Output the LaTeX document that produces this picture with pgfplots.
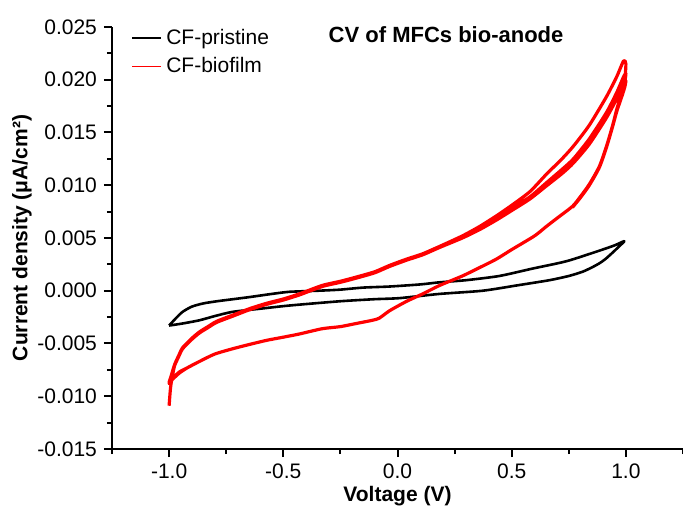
\documentclass[border=0pt]{standalone}
\usepackage{fontspec}
\setmainfont{Liberation Sans}
\usepackage{pgfplots}
\pgfplotsset{compat=1.18}

\begin{document}
\begin{tikzpicture}[font=\fontsize{10.5}{12.6}\selectfont]
  \begin{axis}[
      name=main,
      scale only axis,
      width=285.5pt, height=211pt,
      xmin=-1.25, xmax=1.25,
      ymin=-0.015, ymax=0.025,
      axis lines*=left,
      axis line style={line width=1.1pt},
      tick align=outside,
      major tick length=4pt,
      minor tick length=2.5pt,
      every tick/.style={black, line width=1pt},
      xtick={-1,-0.5,0,0.5,1},
      xticklabels={-1.0,-0.5,0.0,0.5,1.0},
      minor xtick={-1.25,-0.75,-0.25,0.25,0.75,1.25},
      ytick={-0.015,-0.01,-0.005,0,0.005,0.01,0.015,0.02,0.025},
      yticklabels={-0.015,-0.010,-0.005,0.000,0.005,0.010,0.015,0.020,0.025},
      minor ytick={-0.0125,-0.0075,-0.0025,0.0025,0.0075,0.0125,0.0175,0.0225},
      scaled y ticks=false,
      xlabel={\bfseries Voltage (V)},
      ylabel={\bfseries Current density (μA/cm²)},
      xlabel style={yshift=3pt},
      ylabel style={yshift=-4pt},
      legend style={draw=none, fill=none, at={(0.03,1.01)}, anchor=north west,
        row sep=1pt, inner sep=1pt},
      legend cell align=left,
      legend image code/.code={\draw[#1, line width=0.9pt] (0pt,0pt) -- (14.5pt,0pt);},
      clip=false,
    ]
    % CF-pristine, one cycle
    \addplot[black, line width=1.3pt, line join=round, smooth, tension=0.4] coordinates {
      (-1.0,-0.0033)(-0.97,-0.0026)(-0.941,-0.0020)(-0.9,-0.0015)(-0.85,-0.0012)
      (-0.792,-0.0010)(-0.72,-0.0008)(-0.648,-0.0006)(-0.55,-0.0003)(-0.473,-0.0001)
      (-0.35,0.0000)(-0.254,0.0001)(-0.15,0.0003)(-0.035,0.0004)(0.1,0.0006)
      (0.184,0.0008)(0.3,0.0010)(0.446,0.0014)(0.591,0.0021)(0.74,0.0028)
      (0.884,0.0038)(0.95,0.0043)(0.993,0.0047)
      (0.97,0.0042)(0.941,0.0036)(0.91,0.0030)(0.884,0.0026)(0.85,0.0022)
      (0.81,0.0018)(0.75,0.0014)(0.665,0.0010)(0.521,0.0005)(0.372,0.0000)
      (0.184,-0.0003)(0.009,-0.0007)(-0.1,-0.0008)(-0.254,-0.0010)(-0.473,-0.0014)
      (-0.6,-0.0017)(-0.722,-0.0020)(-0.8,-0.0024)(-0.867,-0.0028)(-0.94,-0.0031)
      (-1.0,-0.0033)
    };
    \addlegendentry{CF-pristine}
    % CF-biofilm, three cycles
    \addplot[red, line width=1.6pt, line join=round, smooth, tension=0.4] coordinates {
      (-1.0,-0.0109)(-0.995,-0.0095)(-0.99,-0.0086)(-0.976,-0.0071)(-0.955,-0.0060)
      (-0.941,-0.0054)(-0.9,-0.0045)(-0.867,-0.0039)(-0.83,-0.0034)(-0.792,-0.0029)
      (-0.72,-0.0023)(-0.648,-0.0017)(-0.575,-0.0012)(-0.503,-0.0008)(-0.43,-0.0003)
      (-0.33,0.0005)(-0.25,0.0009)(-0.18,0.0013)(-0.1,0.0018)(-0.035,0.0024)
      (0.04,0.0030)(0.11,0.0035)(0.184,0.0042)(0.284,0.0052)(0.36,0.0061)
      (0.433,0.0071)(0.5,0.0081)(0.58,0.0094)(0.65,0.0110)(0.72,0.0125)
      (0.77,0.0137)(0.84,0.0157)(0.915,0.0184)(0.96,0.0203)(0.99,0.0218)
      (1.0,0.0215)(0.995,0.0200)(0.985,0.0190)(0.96,0.0172)(0.941,0.0156)
      (0.915,0.0137)(0.884,0.0118)(0.84,0.0101)(0.8,0.0089)(0.766,0.0080)
      (0.7,0.0069)(0.652,0.0061)(0.6,0.0052)(0.5,0.0039)(0.433,0.0030)
      (0.36,0.0022)(0.284,0.0014)(0.184,0.0005)(0.11,-0.0003)(0.04,-0.0010)
      (-0.035,-0.0019)(-0.08,-0.0026)(-0.11,-0.0028)(-0.18,-0.0031)(-0.25,-0.0034)
      (-0.33,-0.0036)(-0.43,-0.0041)(-0.5,-0.0044)(-0.573,-0.0047)(-0.65,-0.0051)
      (-0.722,-0.0055)(-0.8,-0.0060)(-0.867,-0.0067)(-0.92,-0.0073)(-0.955,-0.0077)
      (-0.985,-0.0083)(-1.0,-0.0087)
      (-0.99,-0.0080)(-0.976,-0.0070)(-0.955,-0.0060)(-0.941,-0.0054)(-0.9,-0.0045)
      (-0.867,-0.0039)(-0.83,-0.0034)(-0.792,-0.0029)(-0.72,-0.0023)(-0.648,-0.0017)
      (-0.575,-0.0012)(-0.503,-0.0008)(-0.43,-0.0003)(-0.33,0.0005)(-0.25,0.0009)
      (-0.18,0.0013)(-0.1,0.0018)(-0.035,0.0024)(0.04,0.0030)(0.11,0.0035)
      (0.184,0.0042)(0.284,0.0051)(0.36,0.0059)(0.433,0.0068)(0.5,0.0078)
      (0.58,0.0089)(0.65,0.0102)(0.72,0.0115)(0.77,0.0125)(0.84,0.0144)
      (0.915,0.0169)(0.96,0.0188)(0.99,0.0203)(1.0,0.0206)
      (0.995,0.0198)(0.985,0.0189)(0.96,0.0171)(0.941,0.0156)(0.915,0.0137)
      (0.884,0.0118)(0.84,0.0101)(0.8,0.0089)(0.766,0.0080)(0.7,0.0069)
      (0.652,0.0061)(0.6,0.0052)(0.5,0.0039)(0.433,0.0030)(0.36,0.0022)
      (0.284,0.0014)(0.184,0.0005)(0.11,-0.0003)(0.04,-0.0010)(-0.035,-0.0019)
      (-0.08,-0.0026)(-0.11,-0.0028)(-0.18,-0.0031)(-0.25,-0.0034)(-0.33,-0.0036)
      (-0.43,-0.0041)(-0.5,-0.0044)(-0.573,-0.0047)(-0.65,-0.0051)(-0.722,-0.0055)
      (-0.8,-0.0060)(-0.867,-0.0067)(-0.92,-0.0073)(-0.955,-0.0078)(-0.985,-0.0084)
      (-1.0,-0.0088)
      (-0.99,-0.0081)(-0.976,-0.0071)(-0.955,-0.0061)(-0.941,-0.0055)(-0.9,-0.0046)
      (-0.867,-0.0040)(-0.83,-0.0035)(-0.792,-0.0030)(-0.72,-0.0024)(-0.648,-0.0018)
      (-0.575,-0.0013)(-0.503,-0.0009)(-0.43,-0.0004)(-0.33,0.0004)(-0.25,0.0008)
      (-0.18,0.0012)(-0.1,0.0017)(-0.035,0.0023)(0.04,0.0029)(0.11,0.0034)
      (0.184,0.0041)(0.284,0.0050)(0.36,0.0058)(0.433,0.0067)(0.5,0.0076)
      (0.58,0.0087)(0.65,0.0099)(0.72,0.0111)(0.77,0.0121)(0.84,0.0139)
      (0.915,0.0164)(0.96,0.0182)(0.99,0.0196)(1.0,0.0199)
      (0.995,0.0193)(0.985,0.0186)(0.96,0.0170)(0.941,0.0155)(0.915,0.0136)
      (0.884,0.0117)(0.84,0.0100)(0.8,0.0088)(0.766,0.0079)
    };
    \addlegendentry{CF-biofilm}
    \node[font=\fontsize{11}{13}\selectfont\bfseries] at (rel axis cs:0.585,0.981) {CV of MFCs bio-anode};
  \end{axis}
  \pgfresetboundingbox
  \path[use as bounding box] ([xshift=-56pt,yshift=-29pt]main.south west)
    rectangle ([yshift=13.5pt]main.north east);
\end{tikzpicture}
\end{document}
